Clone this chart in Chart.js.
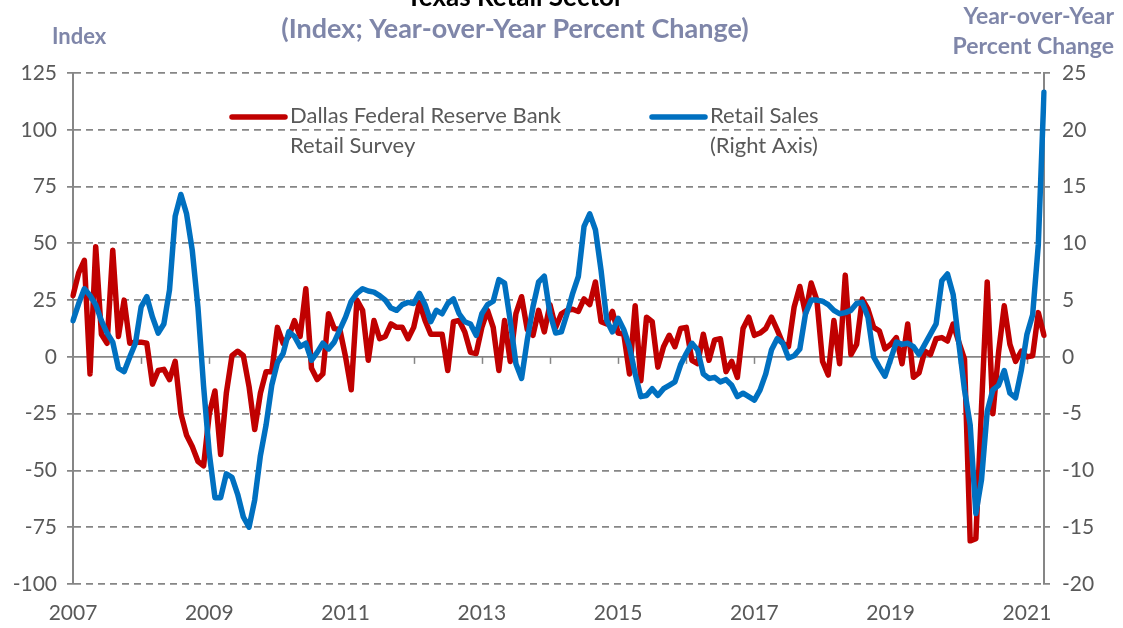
<!DOCTYPE html>
<html lang="en">
<head>
    <meta charset="UTF-8">
    <title>Texas Retail Sector</title>
    <script src="https://cdn.jsdelivr.net/npm/chart.js"></script>
    <style>
        html, body {
            margin: 0;
            padding: 0;
            background: #ffffff;
        }
        .wrap {
            width: 1123px;
            height: 628px;
            position: relative;
        }
    </style>
</head>
<body>
    <div class="wrap">
        <canvas id="retailChart"></canvas>
    </div>

    <script>
        // monthly, Jan 2007 .. Apr 2021
        const months = [];
        for (let yr = 2007; yr <= 2021; yr++) {
            for (let mo = 1; mo <= 12; mo++) {
                if (yr === 2021 && mo > 4) break;
                months.push(yr + '-' + String(mo).padStart(2, '0'));
            }
        }
        const shownYears = ['2007', '2009', '2011', '2013', '2015', '2017', '2019', '2021'];

        // Dallas Fed Texas retail survey, sales index (left axis)
        const dallasSurvey = [
            27, 37, 42.5, -7.5, 48.5, 10, 6, 47, 9, 25, 6, 6.5,
            6.5, 6, -12, -6, -5.5, -10, -2, -25, -34.5, -39.5, -46, -48,
            -25, -15, -43, -16, 0.5, 2.5, 0.5, -13, -32, -16, -6.5, -6.5,
            13, 6, 9, 16, 9, 30, -5, -10, -7.5, 19, 12.5, 12,
            0, -14.5, 25, 20.5, -1.5, 16, 8, 9, 14.5, 13, 13, 8,
            13, 24, 16, 10, 10, 10, -6, 15.5, 16, 11, 2, 1.5,
            13, 20.5, 13, -6, 16, -2, 19, 26.5, 12, 9.5, 20.5, 11,
            23, 13, 19, 20.5, 21, 20, 25.5, 23, 33, 15.5, 14.5, 20,
            10.5, 10, -7.5, 22.5, -10.5, 17.5, 15.5, -4.5, 4.5, 9.5, 4.5, 12.5,
            13, -1.5, -3, 10, -1.5, 7.5, 8, -6.5, -2, -9, 12.5, 17.5,
            9.5, 10.5, 12.5, 17.5, 12, 6, 4.5, 22, 31, 19, 32.5, 25,
            -2, -8, 16, -3, 36, 1, 5.5, 25.5, 21, 13, 11.5, 3.5,
            5.5, 8.5, -3, 14.5, -9, -7, 2.5, 1, 8, 8.5, 7, 14.5,
            6.5, -1, -81, -80, -22, 33, -25, 2, 22.5, 5.5, -2, 2.5,
            0, 0.5, 19.5, 9.5
        ];

        // Texas retail sales, year-over-year % change (right axis)
        const retailSales = [
            3.2, 4.7, 6.0, 5.4, 4.6, 3.2, 2.1, 1.3, -1.0, -1.3, 0, 1.2,
            4.4, 5.3, 3.5, 2.1, 2.9, 5.9, 12.4, 14.3, 12.6, 9.4, 4.4, -2.6,
            -8.5, -12.4, -12.4, -10.3, -10.6, -12.1, -14.1, -15.0, -12.6, -8.7, -6.0, -2.5,
            -0.5, 0.3, 2.2, 1.8, 0.9, 1.2, -0.3, 0.4, 1.2, 0.7, 1.3, 2.4,
            3.5, 4.9, 5.6, 6.0, 5.8, 5.7, 5.4, 5.0, 4.3, 4.1, 4.6, 4.8,
            4.7, 5.6, 4.6, 3.1, 4.1, 3.8, 4.7, 5.1, 3.8, 3.1, 2.9, 1.9,
            3.8, 4.6, 4.9, 6.8, 6.5, 3.2, -0.6, -1.9, 1.5, 4.4, 6.6, 7.1,
            3.8, 2.1, 2.2, 3.8, 5.6, 7.1, 11.5, 12.6, 11.2, 7.6, 3.2, 2.2,
            3.4, 2.4, 0.9, -1.5, -3.5, -3.4, -2.8, -3.4, -2.8, -2.5, -2.2, -0.7,
            0.3, 1.2, 0.6, -1.5, -1.9, -1.8, -2.2, -2.0, -2.5, -3.5, -3.2, -3.5,
            -3.8, -2.9, -1.5, 0.6, 1.6, 1.2, -0.1, 0.1, 0.7, 3.8, 5.0, 5.0,
            4.9, 4.6, 4.1, 3.8, 3.9, 4.1, 4.7, 4.8, 3.5, 0.0, -0.9, -1.7,
            -0.2, 1.3, 1.1, 1.2, 0.9, 0.2, 1.1, 2.0, 2.9, 6.7, 7.3, 5.5,
            1.2, -2.9, -6.0, -13.8, -10.8, -4.8, -2.9, -2.5, -1.2, -3.2, -3.6, -1.2,
            2.0, 3.7, 9.9, 23.3
        ];

        const legendLines = [
            ['Dallas Federal Reserve Bank', 'Retail Survey'],
            ['Retail Sales', '(Right Axis)']
        ];

        const RED = '#C00000';
        const BLUE = '#0070C0';
        const GRID = '#868686';
        const TXT = '#595959';
        const SLATE = '#7F86A9';
        const FONT = 'Lato, "Open Sans", sans-serif';

        const decor = {
            id: 'decor',
            beforeDatasetsDraw(chart) {
                // small year ticks hanging off the zero line
                const {ctx, scales} = chart;
                const y0 = scales.y.getPixelForValue(0);
                ctx.save();
                ctx.strokeStyle = GRID;
                ctx.lineWidth = 1.5;
                months.forEach((m, i) => {
                    if (i > 0 && m.endsWith('-01')) {
                        const px = Math.round(scales.x.getPixelForValue(i)) + 0.5;
                        ctx.beginPath();
                        ctx.moveTo(px, y0);
                        ctx.lineTo(px, y0 + 7);
                        ctx.stroke();
                    }
                });
                ctx.restore();
            },
            afterDraw(chart) {
                const ctx = chart.ctx;
                ctx.save();

                // titles
                ctx.textBaseline = 'alphabetic';
                ctx.textAlign = 'center';
                ctx.fillStyle = '#000000';
                ctx.font = 'bold 26px ' + FONT;
                ctx.fillText('Texas Retail Sector', 515, 6);

                ctx.fillStyle = SLATE;
                ctx.textBaseline = 'middle';
                ctx.font = 'bold 27px ' + FONT;
                ctx.fillText('(Index; Year-over-Year Percent Change)', 515, 29);

                ctx.font = 'bold 22px ' + FONT;
                ctx.textAlign = 'left';
                ctx.fillText('Index', 52, 37);
                ctx.textAlign = 'right';
                ctx.font = 'bold 23px ' + FONT;
                ctx.fillText('Year-over-Year', 1114, 17);
                ctx.fillText('Percent Change', 1114, 47);

                // legend
                const items = [
                    {x: 232, color: RED, lines: legendLines[0]},
                    {x: 652, color: BLUE, lines: legendLines[1]}
                ];
                items.forEach(it => {
                    ctx.strokeStyle = it.color;
                    ctx.lineWidth = 5.5;
                    ctx.lineCap = 'round';
                    ctx.beginPath();
                    ctx.moveTo(it.x, 117);
                    ctx.lineTo(it.x + 53, 117);
                    ctx.stroke();
                    ctx.fillStyle = TXT;
                    ctx.font = '22px ' + FONT;
                    ctx.textAlign = 'left';
                    ctx.textBaseline = 'middle';
                    it.lines.forEach((t, k) => ctx.fillText(t, it.x + 58, 116 + k * 30));
                });
                ctx.restore();
            }
        };

        new Chart(document.getElementById('retailChart'), {
            type: 'line',
            data: {
                labels: months,
                datasets: [
                    {
                        label: legendLines[1].join(' '),
                        data: retailSales,
                        yAxisID: 'y1',
                        borderColor: BLUE,
                        borderWidth: 5.5,
                        pointRadius: 0,
                        tension: 0,
                        borderJoinStyle: 'round',
                        borderCapStyle: 'round',
                        order: 0
                    },
                    {
                        label: legendLines[0].join(' '),
                        data: dallasSurvey,
                        yAxisID: 'y',
                        borderColor: RED,
                        borderWidth: 5.5,
                        pointRadius: 0,
                        tension: 0,
                        borderJoinStyle: 'round',
                        borderCapStyle: 'round',
                        order: 1
                    }
                ]
            },
            options: {
                responsive: true,
                maintainAspectRatio: false,
                animation: false,
                layout: { padding: { top: 73, left: 0, right: 0, bottom: 0 } },
                plugins: {
                    legend: { display: false },
                    tooltip: { enabled: false }
                },
                scales: {
                    x: {
                        type: 'category',
                        grid: { display: false, drawTicks: false },
                        border: { display: false },
                        ticks: {
                            autoSkip: false,
                            maxRotation: 0,
                            minRotation: 0,
                            padding: 17,
                            color: TXT,
                            font: { family: FONT, size: 21 },
                            callback: function (val) {
                                const [yr, mo] = this.getLabelForValue(val).split('-');
                                return (mo === '01' && shownYears.includes(yr)) ? yr : null;
                            }
                        },
                        afterFit: s => { s.height = 44; }
                    },
                    y: {
                        position: 'left',
                        min: -100,
                        max: 125,
                        ticks: {
                            stepSize: 25,
                            padding: 10,
                            color: TXT,
                            font: { family: FONT, size: 21 }
                        },
                        grid: {
                            color: GRID,
                            lineWidth: 1.75,
                            tickLength: 6
                        },
                        border: {
                            display: true,
                            color: GRID,
                            width: 2,
                            dash: ctx => (ctx.tick && ctx.tick.value === 0) ? [] : [7, 5]
                        },
                        afterFit: s => { s.width = 73; }
                    },
                    y1: {
                        position: 'right',
                        min: -20,
                        max: 25,
                        ticks: {
                            stepSize: 5,
                            padding: 12,
                            color: TXT,
                            font: { family: FONT, size: 21 }
                        },
                        grid: {
                            drawOnChartArea: false,
                            color: GRID,
                            lineWidth: 1.75,
                            tickLength: 6
                        },
                        border: { display: true, color: GRID, width: 2 },
                        afterFit: s => { s.width = 79; }
                    }
                }
            },
            plugins: [decor]
        });
    </script>
</body>
</html>
